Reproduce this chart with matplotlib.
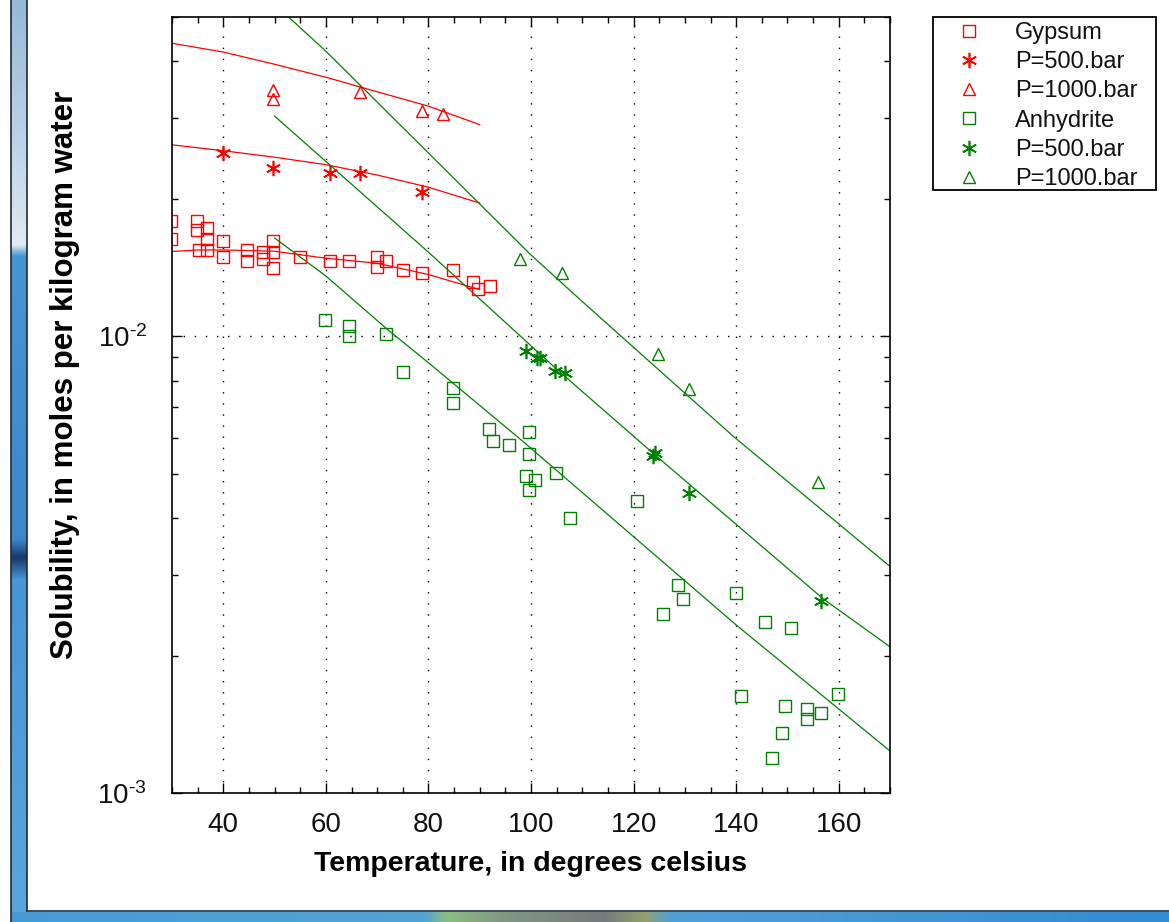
import matplotlib
matplotlib.use("Agg")
import numpy as np
import matplotlib.pyplot as plt
from matplotlib.lines import Line2D
from matplotlib.patches import Rectangle
from matplotlib.ticker import FixedLocator, FixedFormatter, MultipleLocator, LogLocator, NullFormatter

plt.rcParams['font.family'] = ['Liberation Sans', 'DejaVu Sans']
plt.rcParams['mathtext.fontset'] = 'custom'
plt.rcParams['mathtext.rm'] = 'Liberation Sans'
plt.rcParams['mathtext.it'] = 'Liberation Sans:italic'
plt.rcParams['mathtext.bf'] = 'Liberation Sans:bold'

# ---- measured solubilities (mol/kg water) vs temperature (deg C) ----
gypsum_T = [29.8, 29.8, 34.9, 34.9, 36.8, 36.8, 35.3, 36.8, 39.9, 39.9, 44.7, 44.7,
            47.8, 47.8, 49.6, 49.6, 49.6, 55.0, 60.8, 64.6, 69.9, 69.9, 71.7, 75.0,
            78.7, 84.8, 88.7, 89.7, 92.0]
gypsum_S = [0.0179, 0.01633, 0.0179, 0.0171, 0.0173, 0.01633, 0.01545, 0.01545, 0.01618,
            0.0149, 0.01545, 0.01462, 0.01527, 0.01475, 0.01618, 0.01527, 0.0141, 0.01492,
            0.01462, 0.01462, 0.01492, 0.01418, 0.01462, 0.01396, 0.01373, 0.01396,
            0.01312, 0.01268, 0.01288]

gypsum500_T = [39.9, 49.6, 60.8, 66.7, 78.7]
gypsum500_S = [0.0252, 0.02333, 0.02278, 0.02278, 0.02072]

gypsum1000_T = [49.6, 49.6, 66.7, 78.7, 82.8]
gypsum1000_S = [0.03467, 0.0331, 0.0342, 0.0312, 0.0307]

anhydrite_T = [59.8, 64.6, 64.6, 71.7, 75.0, 84.8, 84.8, 91.9, 92.6, 95.7, 99.7, 99.7,
               99.0, 100.8, 99.7, 104.9, 107.6, 120.6, 128.7, 129.7, 125.8, 139.9, 145.7,
               150.7, 141.0, 149.6, 153.8, 153.8, 156.6, 159.9, 148.9, 146.9]
anhydrite_S = [0.01086, 0.01053, 0.01002, 0.0101, 0.00835, 0.00769, 0.00716, 0.00625,
               0.00591, 0.00577, 0.00618, 0.00551, 0.00494, 0.00484, 0.0046, 0.00502,
               0.0040, 0.00436, 0.00285, 0.00266, 0.00246, 0.00274, 0.00237, 0.0023,
               0.00163, 0.00155, 0.00153, 0.00145, 0.0015, 0.00165, 0.00135, 0.00119]

anhydrite500_T = [99.0, 101.1, 101.7, 104.7, 106.6, 123.8, 124.2, 130.9, 156.6]
anhydrite500_S = [0.00929, 0.00898, 0.00894, 0.00839, 0.00832, 0.00546, 0.00556, 0.00454, 0.00263]

anhydrite1000_T = [97.8, 106.0, 124.8, 130.9, 156.0]
anhydrite1000_S = [0.01476, 0.01374, 0.00913, 0.00768, 0.00479]

# ---- model curves ----
gyp_curve_T = [30, 35, 40, 50, 60, 70, 80, 90]
gyp_curve_S = [0.01533, 0.01545, 0.01545, 0.01535, 0.01482, 0.01445, 0.01365, 0.01265]
gyp500_curve_T = [30, 40, 50, 60, 70, 80, 90]
gyp500_curve_S = [0.02625, 0.02548, 0.02466, 0.02375, 0.02254, 0.0212, 0.01957]
gyp1000_curve_T = [30, 40, 50, 60, 70, 80, 90]
gyp1000_curve_S = [0.0438, 0.0419, 0.0394, 0.0369, 0.0343, 0.0319, 0.02906]

anh_curve_T = [50, 60, 72, 80, 98, 140, 170]
anh_curve_S = [0.01641, 0.01355, 0.01035, 0.00875, 0.00594, 0.002333, 0.001236]
anh500_curve_T = [50, 80, 105, 124, 157, 170]
anh500_curve_S = [0.03034, 0.01528, 0.00847, 0.00552, 0.00266, 0.00209]
anh1000_curve_T = [50, 60.2, 80, 99.8, 109.5, 139.4, 170]
anh1000_curve_S = [0.05333, 0.04188, 0.02519, 0.01514, 0.01205, 0.006044, 0.003133]

x_ticks = [40, 60, 80, 100, 120, 140, 160]
y_ticks = [1e-3, 1e-2]
y_tick_labels = [r'$\mathregular{10^{\text{-}3}}$', r'$\mathregular{10^{\text{-}2}}$']
legend_labels = ['Gypsum', 'P=500.bar', 'P=1000.bar', 'Anhydrite', 'P=500.bar', 'P=1000.bar']

RED = '#ff0000'
GREEN = '#008000'
W, H = 1169, 922

fig = plt.figure(figsize=(W / 100, H / 100), dpi=100)
fig.patch.set_facecolor('white')


def fig_rect(x0, y0, x1, y1):
    return [x0 / W, 1 - y1 / H, (x1 - x0) / W, (y1 - y0) / H]


def gradient_strip(rect, stops, vertical=True, n=400):
    a = fig.add_axes(rect)
    a.set_axis_off()
    pos = np.linspace(0, 1, n)
    ps = [s[0] for s in stops]
    cols = np.array([s[1] for s in stops], dtype=float) / 255.0
    rgb = np.stack([np.interp(pos, ps, cols[:, k]) for k in range(3)], axis=-1)
    img = rgb[:, None, :] if vertical else rgb[None, :, :]
    a.imshow(img, aspect='auto', interpolation='bilinear', extent=(0, 1, 1, 0))
    a.set_xlim(0, 1)
    a.set_ylim(1, 0)


# window border
gradient_strip(fig_rect(11, 0, 27, 922), [
    (0.0, (150, 185, 215)), (150 / 922, (190, 212, 232)), (245 / 922, (225, 235, 242)),
    (256 / 922, (70, 150, 210)), (540 / 922, (60, 135, 200)), (558 / 922, (25, 55, 100)),
    (580 / 922, (70, 150, 210)), (1.0, (90, 165, 220))])
gradient_strip(fig_rect(11, 912, 1169, 922), [
    (0.0, (70, 155, 215)), (417 / 1169, (80, 165, 210)), (440 / 1169, (140, 190, 130)),
    (498 / 1169, (130, 150, 130)), (600 / 1169, (115, 125, 125)), (640 / 1169, (150, 160, 110)),
    (666 / 1169, (80, 160, 215)), (1.0, (50, 140, 210))], vertical=False)
for xs, ys in [([11, 11], [0, 922]), ([27, 27], [0, 911]), ([27, 1169], [911, 911])]:
    fig.add_artist(Line2D([x / W for x in xs], [1 - y / H for y in ys],
                          transform=fig.transFigure, color='#1e2a3a', lw=1.2))

ax = fig.add_axes(fig_rect(172, 17, 890, 793))
ax.set_yscale('log')
ax.set_xlim(30, 170)
ax.set_ylim(1e-3, 0.05)

line_kw = dict(lw=0.9)
ax.plot(gyp_curve_T, gyp_curve_S, color=RED, **line_kw)
ax.plot(gyp500_curve_T, gyp500_curve_S, color=RED, **line_kw)
ax.plot(gyp1000_curve_T, gyp1000_curve_S, color=RED, **line_kw)
ax.plot(anh_curve_T, anh_curve_S, color=GREEN, **line_kw)
ax.plot(anh500_curve_T, anh500_curve_S, color=GREEN, **line_kw)
ax.plot(anh1000_curve_T, anh1000_curve_S, color=GREEN, **line_kw)

ASTER = (6, 2, 0)
series = [
    (gypsum_T, gypsum_S, 's', RED, 8.5, 1.0),
    (gypsum500_T, gypsum500_S, ASTER, RED, 11, 1.2),
    (gypsum1000_T, gypsum1000_S, '^', RED, 8, 1.0),
    (anhydrite_T, anhydrite_S, 's', GREEN, 8.5, 1.0),
    (anhydrite500_T, anhydrite500_S, ASTER, GREEN, 11, 1.2),
    (anhydrite1000_T, anhydrite1000_S, '^', GREEN, 8, 1.0),
]
handles = []
for t, s, m, c, ms, mew in series:
    ax.plot(t, s, ls='none', marker=m, mec=c, mfc='none', ms=ms, mew=mew)
    handles.append(Line2D([], [], ls='none', marker=m, mec=c, mfc='none', ms=ms, mew=mew))

ax.xaxis.set_major_locator(FixedLocator(x_ticks))
ax.xaxis.set_minor_locator(MultipleLocator(5))
ax.yaxis.set_major_locator(FixedLocator(y_ticks))
ax.yaxis.set_major_formatter(FixedFormatter(y_tick_labels))
ax.yaxis.set_minor_locator(LogLocator(base=10, subs=np.arange(2, 10)))
ax.yaxis.set_minor_formatter(NullFormatter())

ax.tick_params(which='both', direction='in', top=True, right=True, width=1.0, colors='black')
ax.tick_params(which='major', length=7.5)
ax.tick_params(which='minor', length=4.3)
ax.tick_params(axis='x', which='major', labelsize=20, pad=13.5, labelcolor='#111111')
ax.tick_params(axis='y', which='major', labelsize=20, pad=18, labelcolor='#111111')
for sp in ax.spines.values():
    sp.set_linewidth(1.2)

ax.grid(True, which='major', color='black', linestyle=(0, (1, 7)), lw=1.0)

ax.set_xlabel('Temperature, in degrees celsius', fontsize=20.5, fontweight='bold')
ax.xaxis.set_label_coords(0.4993, -0.091)
ax.xaxis.label.set_va('center')
ax.set_ylabel('Solubility, in moles per kilogram water', fontsize=22.5, fontweight='bold')
ax.yaxis.set_label_coords(-0.149, 0.539)
ax.yaxis.label.set_va('center')

leg = fig.legend(handles, legend_labels, loc='upper left',
                 bbox_to_anchor=(952 / W, 1 - 22 / H), bbox_transform=fig.transFigure,
                 frameon=False, fontsize=17, borderpad=0, borderaxespad=0,
                 handlelength=1.44, handletextpad=1.23, labelspacing=0.305)
for txt in leg.get_texts():
    txt.set_color('#111111')
fig.add_artist(Rectangle((933 / W, 1 - 190 / H), (1156 - 933) / W, (190 - 17) / H,
                         transform=fig.transFigure, fill=False, ec='black', lw=1.3))

fig.savefig('out.png', dpi=100)
